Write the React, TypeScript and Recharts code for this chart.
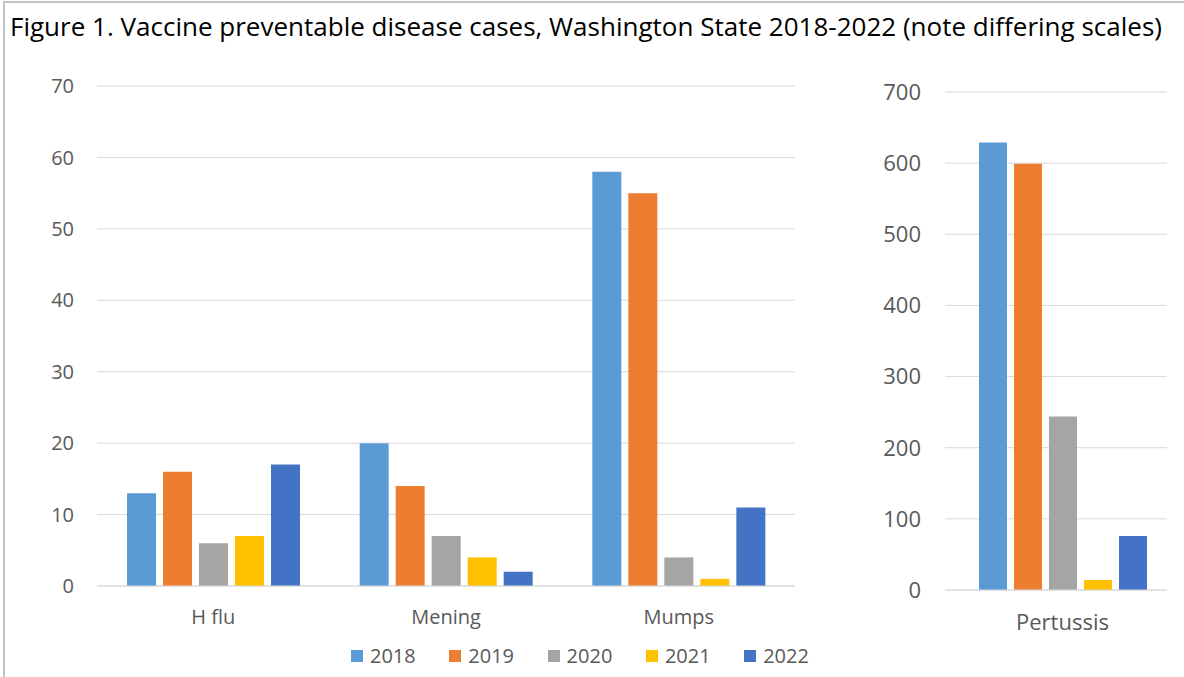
import React from 'react';
import { BarChart, Bar, XAxis, YAxis, CartesianGrid } from 'recharts';

// small named data arrays
const categories = ['H flu', 'Mening', 'Mumps'];
const years = ['2018', '2019', '2020', '2021', '2022'];
const colors = ['#5B9BD5', '#ED7D31', '#A5A5A5', '#FFC000', '#4472C4'];

const cases2018 = [13, 20, 58];
const cases2019 = [16, 14, 55];
const cases2020 = [6, 7, 4];
const cases2021 = [7, 4, 1];
const cases2022 = [17, 2, 11];

const pertussisLabel = ['Pertussis'];
const pertussisCases = [629, 599, 244, 14, 76];

const leftTicks = [0, 10, 20, 30, 40, 50, 60, 70];
const rightTicks = [0, 100, 200, 300, 400, 500, 600, 700];

const seriesValues = [cases2018, cases2019, cases2020, cases2021, cases2022];

const leftData = categories.map((name, i) => {
  const row: any = { name };
  years.forEach((y, k) => {
    row[y] = seriesValues[k][i];
  });
  return row;
});

const rightData = pertussisLabel.map((name) => {
  const row: any = { name };
  years.forEach((y, k) => {
    row[y] = pertussisCases[k];
  });
  return row;
});

const tickColor = '#595959';
const gridColor = '#D9D9D9';

export default function App() {
  return (
    <div
      style={{
        position: 'absolute',
        left: 0,
        top: 0,
        width: 1184,
        height: 677,
        background: '#fff',
        overflow: 'hidden',
        fontFamily: '"Open Sans", sans-serif',
      }}
    >
      {/* figure frame */}
      <div
        style={{
          position: 'absolute',
          left: 3,
          top: 1,
          width: 1200,
          height: 700,
          borderTop: '2px solid #C4C4C4',
          borderLeft: '2px solid #C4C4C4',
        }}
      />
      <svg style={{ position: 'absolute', left: 0, top: 0 }} width={1184} height={60}>
        <text
          x={10}
          y={36}
          fontSize={26}
          fill="#000"
          fontFamily='"Open Sans", sans-serif'
          textLength={1152}
          lengthAdjust="spacingAndGlyphs"
        >
          Figure 1. Vaccine preventable disease cases, Washington State 2018-2022 (note differing scales)
        </text>
      </svg>

      <div style={{ position: 'absolute', left: 0, top: 0 }}>
        <BarChart
          width={815}
          height={677}
          data={leftData}
          margin={{ top: 86, right: 20, left: 0, bottom: 31 }}
          barGap={7}
          barSize={29}
        >
          <CartesianGrid vertical={false} stroke={gridColor} />
          <XAxis
            dataKey="name"
            height={60}
            axisLine={{ stroke: gridColor }}
            tickLine={false}
            tickSize={0}
            tickMargin={24}
            tick={{ fontSize: 20, fill: tickColor }}
          />
          <YAxis
            width={97}
            domain={[0, 70]}
            ticks={leftTicks}
            axisLine={false}
            tickLine={false}
            tickSize={0}
            tickMargin={23}
            tick={{ fontSize: 20, fill: tickColor }}
          />
          {years.map((y, k) => (
            <Bar key={y} dataKey={y} fill={colors[k]} isAnimationActive={false} />
          ))}
        </BarChart>
      </div>

      <div style={{ position: 'absolute', left: 820, top: 0 }}>
        <BarChart
          width={364}
          height={677}
          data={rightData}
          margin={{ top: 92, right: 17, left: 0, bottom: 27 }}
          barGap={7}
          barSize={28}
        >
          <CartesianGrid vertical={false} stroke={gridColor} />
          <XAxis
            dataKey="name"
            height={60}
            padding={{ left: 13, right: 0 }}
            axisLine={{ stroke: gridColor }}
            tickLine={false}
            tickSize={0}
            tickMargin={24}
            tick={{ fontSize: 22, fill: tickColor }}
          />
          <YAxis
            width={125}
            domain={[0, 700]}
            ticks={rightTicks}
            axisLine={false}
            tickLine={false}
            tickSize={0}
            tickMargin={24}
            tick={{ fontSize: 22, fill: tickColor }}
          />
          {years.map((y, k) => (
            <Bar key={y} dataKey={y} fill={colors[k]} isAnimationActive={false} />
          ))}
        </BarChart>
      </div>

      {/* legend */}
      <div
        style={{
          position: 'absolute',
          left: 351,
          top: 642,
          height: 28,
          display: 'flex',
          alignItems: 'center',
        }}
      >
        {years.map((y, k) => (
          <div key={y} style={{ width: 98.3, display: 'flex', alignItems: 'center' }}>
            <span style={{ width: 12, height: 12, background: colors[k], marginRight: 7 }} />
            <span style={{ fontSize: 20, color: tickColor, lineHeight: '28px' }}>{y}</span>
          </div>
        ))}
      </div>
    </div>
  );
}
